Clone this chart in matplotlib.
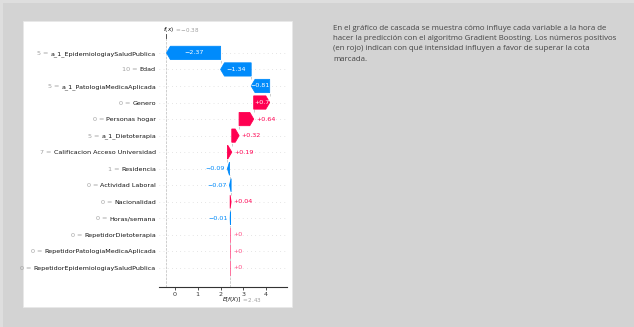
import numpy as np
import matplotlib
matplotlib.use('Agg')
import matplotlib.pyplot as plt
import matplotlib.transforms as mtransforms
from matplotlib.patches import FancyArrow, Rectangle

# datos del grafico de cascada (de arriba a abajo)
features = ['a_1_EpidemiologiaySaludPublica', 'Edad', 'a_1_PatologiaMedicaAplicada',
            'Genero', 'Personas hogar', 'a_1_Dietoterapia',
            'Calificacion Acceso Universidad', 'Residencia', 'Actividad Laboral',
            'Nacionalidad', 'Horas/semana', 'RepetidorDietoterapia',
            'RepetidorPatologiaMedicaAplicada', 'RepetidorEpidemiologiaySaludPublica']
feature_values = ['5', '10', '5', '0', '0', '5', '7', '1', '0', '0', '0', '0', '0', '0']
shap_values = [-2.37, -1.34, -0.81, 0.70, 0.64, 0.32, 0.19,
               -0.09, -0.07, 0.04, -0.01, 0.0, 0.0, 0.0]
base_value = 2.43
fx_value = -0.38
xticks = [0, 1, 2, 3, 4]

texto = ("En el gráfico de cascada se muestra cómo influye cada variable a la hora de\n"
         "hacer la predicción con el algoritmo Gradient Boosting. Los números positivos\n"
         "(en rojo) indican con qué intensidad influyen a favor de superar la cota\n"
         "marcada.")

RED = '#ff0051'
BLUE = '#008bfb'
W, H = 634, 327


def px(x0, y0, x1, y1):
    return [x0 / W, 1 - y1 / H, (x1 - x0) / W, (y1 - y0) / H]


def fmt(v):
    s = '%+.2f' % v
    s = s.rstrip('0').rstrip('.')
    return s.replace('-', '\u2212')


fig = plt.figure(figsize=(W / 100, H / 100), dpi=100)
fig.patch.set_facecolor('#dedede')
fig.patches.append(Rectangle((3 / W, 0), 1, 1 - 3 / H, transform=fig.transFigure,
                             facecolor='#d3d3d3', edgecolor='none', zorder=-3))
fig.patches.append(Rectangle((23 / W, 1 - 307 / H), 269 / W, 286 / H, transform=fig.transFigure,
                             facecolor='white', edgecolor='#e8e8e8', lw=0.6, zorder=-2))

ax = fig.add_axes(px(159, 38, 287, 287))
ax.set_facecolor('none')
ax.set_xlim(-0.70, 4.91)
ax.set_ylim(-1.15, 13.9)

n = len(features)
rows = np.arange(n)[::-1]
fs = 4.6

# lineas horizontales de cada fila
for r in rows:
    ax.axhline(r, color='#cccccc', lw=0.5, dashes=(1, 5), zorder=-1)

renderer = fig.canvas.get_renderer()
x_scale = ax.transData.transform((1, 0))[0] - ax.transData.transform((0, 0))[0]
hl = 0.17

# recorrido desde la base (fila inferior) hacia arriba
pos = base_value
for i in range(n - 1, -1, -1):
    v = shap_values[i]
    r = rows[i]
    start, end = pos, pos + v
    col = RED if v >= 0 else BLUE
    dist = abs(v)
    sign = 1 if v >= 0 else -1
    arr = FancyArrow(start, r, sign * max(dist, 1e-6), 0, width=0.8, head_width=0.8,
                     head_length=min(dist, hl), length_includes_head=True,
                     color=col, lw=0.6, alpha=1.0 if dist > 0 else 0.55, zorder=3)
    ax.add_patch(arr)
    if i > 0:
        ax.plot([end, end], [r + 0.4, r + 1 - 0.4], color='#bbbbbb', ls='--', lw=0.5, zorder=-1)
    label = fmt(v)
    t = ax.text((start + end) / 2, r, label, ha='center', va='center', color='white', fontsize=fs, zorder=4)
    tw = t.get_window_extent(renderer).width
    if tw > dist * x_scale + 2:
        t.remove()
        off = mtransforms.offset_copy(ax.transData, fig=fig, x=sign * 2.5, y=0, units='dots')
        ax.text(end, r, label, ha='left' if v >= 0 else 'right', va='center',
                color=col, fontsize=fs, transform=off, alpha=1.0 if dist > 0 else 0.7, zorder=4)
    pos = end

# linea vertical de f(x)
ax.axvline(fx_value, color='#bbbbbb', ls='--', lw=0.5, zorder=-1)
ax.plot([base_value, base_value], [-1.15, rows[-1] - 0.4], color='#bbbbbb', ls='--', lw=0.5, zorder=-1)

# etiquetas del eje y: nombre negro, valor gris a la izquierda
ax.set_yticks(rows)
ax.set_yticklabels(features, color='#111111', fontsize=fs)
ax.tick_params(axis='y', length=0, pad=2.2)

ax.set_xticks(xticks)
ax.tick_params(axis='x', labelsize=fs, length=2, width=0.6, pad=1.5, colors='#333333')
for s in ['top', 'right', 'left']:
    ax.spines[s].set_visible(False)
ax.spines['bottom'].set_color('#333333')
ax.spines['bottom'].set_linewidth(0.8)

fig.canvas.draw()
inv = fig.transFigure.inverted()
for lab in ax.get_yticklabels():
    v = feature_values[features.index(lab.get_text())]
    bb = lab.get_window_extent(renderer)
    xf, yf = inv.transform((bb.x0 - 2, (bb.y0 + bb.y1) / 2))
    fig.text(xf, yf, f'{v} =', ha='right', va='center', fontsize=fs, color='#a0a0a0')

# E[f(X)] abajo
mfs = 4.1
tr_b = mtransforms.blended_transform_factory(ax.transData, ax.transAxes)
ax.text(base_value, 0, '$E[f(X)]$', fontsize=mfs, color='#111111', ha='left', va='top',
        transform=tr_b + mtransforms.ScaledTranslation(-8.5 / 100, -8.5 / 100, fig.dpi_scale_trans))
ax.text(base_value, 0, '$= %.2f$' % base_value, fontsize=mfs, color='#a0a0a0', ha='left', va='top',
        transform=tr_b + mtransforms.ScaledTranslation(11 / 100, -8.5 / 100, fig.dpi_scale_trans))

# f(x) arriba
ax.text(fx_value, 1, '$f(x)$', fontsize=mfs, color='#111111', ha='left', va='bottom',
        transform=tr_b + mtransforms.ScaledTranslation(-3 / 100, 4 / 100, fig.dpi_scale_trans))
ax.text(fx_value, 1, '$= %s$' % ('%.2f' % fx_value).replace('-', '\u2212'), fontsize=mfs,
        color='#a0a0a0', ha='left', va='bottom',
        transform=tr_b + mtransforms.ScaledTranslation(8 / 100, 4 / 100, fig.dpi_scale_trans))
ax.plot([fx_value, fx_value], [1, 1.015], color='#333333', lw=0.6, transform=tr_b, clip_on=False)

# texto explicativo
fig.text(333 / W, 1 - 25 / H, texto, fontsize=5.66, family='Open Sans', color='#444444',
         ha='left', va='top', linespacing=1.64)

fig.savefig('out.png', dpi=100, facecolor=fig.get_facecolor())
